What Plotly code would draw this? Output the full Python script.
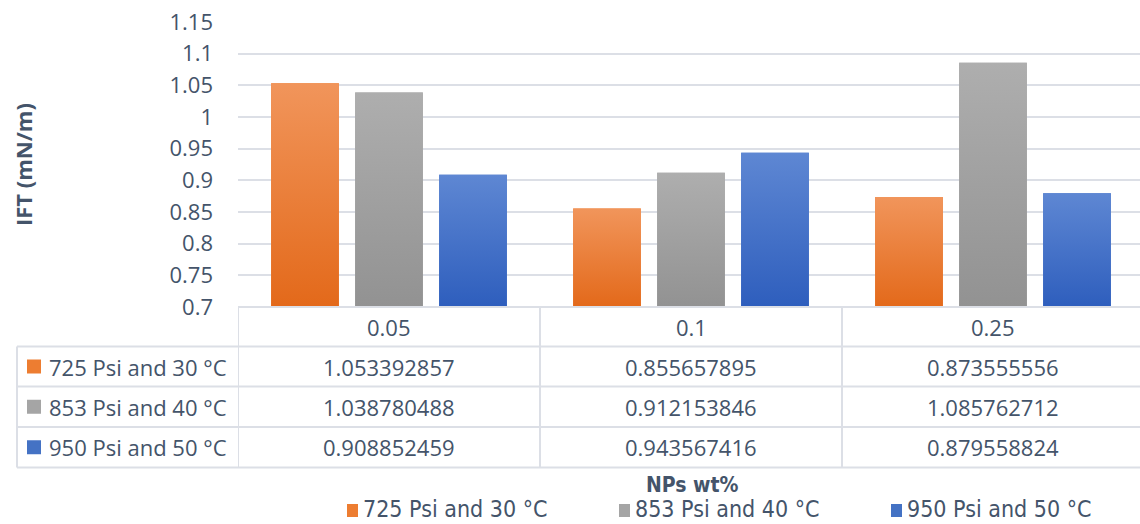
import plotly.graph_objects as go

# ---- data -------------------------------------------------------------
categories = ["0.05", "0.1", "0.25"]
series_names = ["725 Psi and 30 °C", "853 Psi and 40 °C", "950 Psi and 50 °C"]
ift_725psi_30c = [1.053392857, 0.855657895, 0.873555556]
ift_853psi_40c = [1.038780488, 0.912153846, 1.085762712]
ift_950psi_50c = [0.908852459, 0.943567416, 0.879558824]
y_ticks = [0.7, 0.75, 0.8, 0.85, 0.9, 0.95, 1.0, 1.05, 1.1, 1.15]
y_tick_labels = ["0.7", "0.75", "0.8", "0.85", "0.9", "0.95", "1", "1.05", "1.1", "1.15"]

series_values = [ift_725psi_30c, ift_853psi_40c, ift_950psi_50c]

# ---- styling ----------------------------------------------------------
W, H = 1140, 524
PLOT_LEFT = 238          # px, left edge of plot area / first table column
CAT_W = 302              # px, width of one category column
Y_MIN, Y_MAX = 0.7, 1.15
PLOT_TOP, PLOT_BOTTOM = 22, 307
TABLE_ROWS = [307, 346.5, 386.5, 427, 467.5]
TABLE_LEFT = 17
LEGEND_X = [347, 619, 891]   # px, left edge of each legend swatch
LEGEND_SWATCH_Y = 510        # px, vertical centre of the legend swatches

TEXT = "#44546A"
GRID = "#DCDFE6"
FONT = "Open Sans, Noto Sans, sans-serif"
NARROW = "DejaVu Sans Condensed, Roboto, sans-serif"

# (top colour, bottom colour, solid colour) per series
COLORS = [
    ("#F1955B", "#E3691A", "#ED7D31"),
    ("#AEAEAE", "#929292", "#A5A5A5"),
    ("#5E87D3", "#2E5EBD", "#4472C4"),
]

BAR_W = 67.7 / CAT_W     # bar width in category units
SLOT = 84.0 / CAT_W      # distance between bar centres in a group


def px_x(px):
    return px / W


def px_y(py):
    return 1 - py / H


fig = go.Figure()
cat_idx = list(range(len(categories)))

for s, (name, vals) in enumerate(zip(series_names, series_values)):
    top, bottom, solid = COLORS[s]
    centre_off = (s - 1) * SLOT
    fig.add_trace(go.Bar(
        x=cat_idx, y=vals, name=name,
        width=BAR_W, offset=centre_off - BAR_W / 2,
        marker=dict(color=solid, line=dict(width=0)),
        hoverinfo="skip",
    ))
    # vertical shading for each bar of this series
    for c, v in zip(cat_idx, vals):
        x0 = c + centre_off - BAR_W / 2
        x1 = c + centre_off + BAR_W / 2
        fig.add_trace(go.Scatter(
            x=[x0, x1, x1, x0, x0], y=[Y_MIN, Y_MIN, v, v, Y_MIN],
            mode="none", fill="toself",
            fillgradient=dict(type="vertical",
                              colorscale=[[0, bottom], [1, top]]),
            showlegend=False, hoverinfo="skip",
        ))

# ---- data table below the plot -----------------------------------------
shapes = []
line = dict(color=GRID, width=2)
shapes.append(dict(type="line", xref="paper", yref="paper",
                   x0=px_x(PLOT_LEFT), x1=1, y0=px_y(TABLE_ROWS[0]), y1=px_y(TABLE_ROWS[0]), line=line))
for r in TABLE_ROWS[1:]:
    shapes.append(dict(type="line", xref="paper", yref="paper",
                       x0=px_x(TABLE_LEFT), x1=1, y0=px_y(r), y1=px_y(r), line=line))
for c in cat_idx:
    shapes.append(dict(type="line", xref="x", yref="paper",
                       x0=c - 0.5, x1=c - 0.5, y0=px_y(TABLE_ROWS[0]), y1=px_y(TABLE_ROWS[-1]), line=line))
shapes.append(dict(type="line", xref="paper", yref="paper",
                   x0=px_x(TABLE_LEFT), x1=px_x(TABLE_LEFT),
                   y0=px_y(TABLE_ROWS[1]), y1=px_y(TABLE_ROWS[-1]), line=line))

annotations = []
tfont = dict(family=FONT, size=22, color=TEXT)
# category header row
hdr_y = px_y((TABLE_ROWS[0] + TABLE_ROWS[1]) / 2)
for c, lab in zip(cat_idx, categories):
    annotations.append(dict(x=c, y=hdr_y, xref="x", yref="paper", text=lab,
                            showarrow=False, font=tfont, xanchor="center", yanchor="middle"))
# series rows
for s, (name, vals) in enumerate(zip(series_names, series_values)):
    ry = px_y((TABLE_ROWS[s + 1] + TABLE_ROWS[s + 2]) / 2)
    shapes.append(dict(type="rect", xref="paper", yref="paper",
                       x0=px_x(27), x1=px_x(41), y0=ry - 7 / H, y1=ry + 7 / H,
                       fillcolor=COLORS[s][2], line=dict(width=0)))
    annotations.append(dict(x=px_x(47), y=ry, xref="paper", yref="paper", text=name,
                            showarrow=False, font=tfont, xanchor="left", yanchor="middle"))
    for c, v in zip(cat_idx, vals):
        annotations.append(dict(x=c, y=ry, xref="x", yref="paper", text=str(v),
                                showarrow=False, font=tfont, xanchor="center", yanchor="middle"))

# legend below the table, text boxes sit on the bottom edge
ly = px_y(LEGEND_SWATCH_Y)
for s, name in enumerate(series_names):
    lx = LEGEND_X[s]
    shapes.append(dict(type="rect", xref="paper", yref="paper",
                       x0=px_x(lx), x1=px_x(lx + 11), y0=ly - 7 / H, y1=ly + 6 / H,
                       fillcolor=COLORS[s][2], line=dict(width=0)))
    annotations.append(dict(x=px_x(lx + 14), y=0, xref="paper", yref="paper", text=name,
                            showarrow=False, font=dict(family=NARROW, size=23, color=TEXT),
                            xanchor="left", yanchor="bottom"))

# axis titles
annotations.append(dict(x=px_x(23), y=px_y(165), xref="paper", yref="paper",
                        text="<b>IFT (mN/m)</b>", textangle=-90, showarrow=False,
                        font=dict(family=FONT, size=22, color=TEXT),
                        xanchor="center", yanchor="middle"))
annotations.append(dict(x=px_x(692), y=px_y(485), xref="paper", yref="paper",
                        text="<b>NPs wt%</b>", showarrow=False,
                        font=dict(family=NARROW, size=21, color=TEXT),
                        xanchor="center", yanchor="middle"))

fig.update_layout(
    width=W, height=H,
    margin=dict(l=0, r=0, t=0, b=0, autoexpand=False),
    paper_bgcolor="white", plot_bgcolor="white",
    barmode="overlay",
    showlegend=False,
    xaxis=dict(domain=[px_x(PLOT_LEFT), 1],
               range=[-0.5, -0.5 + (W - PLOT_LEFT) / CAT_W],
               showticklabels=False, showgrid=False, zeroline=False, showline=False,
               automargin=False, fixedrange=True),
    yaxis=dict(domain=[px_y(PLOT_BOTTOM), px_y(PLOT_TOP)],
               range=[Y_MIN, Y_MAX], tickvals=y_ticks, ticktext=y_tick_labels,
               showgrid=True, gridcolor=GRID, gridwidth=2, zeroline=False,
               showline=False, ticks="", ticklabelstandoff=24, automargin=False,
               tickfont=dict(family=FONT, size=22, color=TEXT), fixedrange=True),
    shapes=shapes,
    annotations=annotations,
)

fig.write_html("out.html")
